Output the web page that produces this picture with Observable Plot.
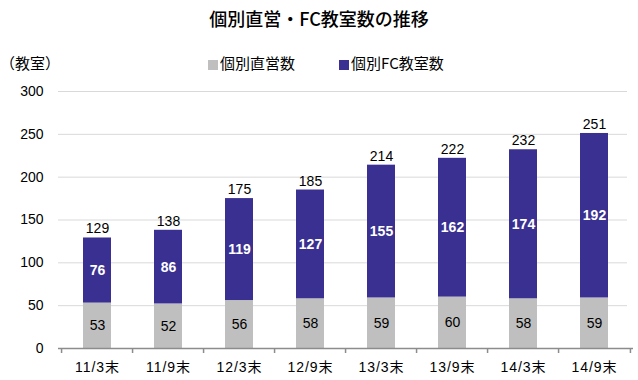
<!DOCTYPE html>
<html><head><meta charset="utf-8">
<script src="https://cdn.jsdelivr.net/npm/d3@7"></script>
<script src="https://cdn.jsdelivr.net/npm/@observablehq/plot@0.6"></script>
<style>
body{margin:0;background:#fff;font-family:"Liberation Sans","Noto Sans CJK JP",sans-serif;}
#wrap{position:relative;width:638px;height:380px;}
#head{position:relative;height:80px;}
#title{position:absolute;left:0;width:638px;top:5px;text-align:center;font-size:18px;font-weight:500;font-family:"Noto Sans CJK JP",sans-serif;color:#000;}
#unit{position:absolute;left:0px;top:52px;font-size:15px;font-family:"Noto Sans CJK JP",sans-serif;}
#legend{position:absolute;left:208px;top:52px;font-size:15px;font-family:"Noto Sans CJK JP",sans-serif;display:flex;gap:0;}
.sw{display:inline-block;width:10px;height:10px;margin-right:2px;vertical-align:-1px;}
.li{margin-right:44px;white-space:nowrap;}
g[aria-label="x-axis tick label"] text{letter-spacing:1px;}
</style></head>
<body><div id="wrap">
<div id="head">
<div id="title">個別直営・FC教室数の推移</div>
<div id="unit">（教室）</div>
<div id="legend"></div>
</div>
<div id="chart"></div>
</div>
<script>
const categories = ["11/3末","11/9末","12/3末","12/9末","13/3末","13/9末","14/3末","14/9末"];
const seriesNames = ["個別直営数","個別FC教室数"];
const direct = [53,52,56,58,59,60,58,59];
const fc = [76,86,119,127,155,162,174,192];
const totals = [129,138,175,185,214,222,232,251];
const yTicks = [0,50,100,150,200,250,300];
const colors = ["#BFBFBF","#3A3091"];

const data = [];
categories.forEach((c,i)=>{
  data.push({cat:c, series:seriesNames[0], value:direct[i]});
  data.push({cat:c, series:seriesNames[1], value:fc[i]});
});
const totalData = categories.map((c,i)=>({cat:c, total:totals[i]}));

const lg = document.getElementById("legend");
seriesNames.forEach((s,i)=>{
  const span = document.createElement("span");
  span.className="li";
  span.innerHTML = `<span class="sw" style="background:${colors[i]}"></span>${s}`;
  lg.appendChild(span);
});

const width = 638, marginLeft = 58, marginRight = 5;
const step = (width - marginLeft - marginRight) / categories.length;

const plot = Plot.plot({
  width, height: 300,
  marginTop: 11, marginBottom: 32, marginLeft, marginRight,
  style: {fontFamily: '"Liberation Sans","Noto Sans CJK JP",sans-serif', fontSize: "14px", color:"#000"},
  x: {domain: categories, paddingInner: 0.61, paddingOuter: 0.305, label: null},
  y: {domain: [0,300], ticks: yTicks, label: null},
  color: {domain: seriesNames, range: colors},
  marks: [
    Plot.ruleY(yTicks.filter(d=>d>0), {stroke:"#D9D9D9", strokeWidth:1, insetRight: 6}),
    Plot.axisY({ticks: yTicks, tickSize: 0, tickPadding: 15, fontSize: 14}),
    Plot.axisX({tickSize: 0, tickPadding: 14, fontSize: 14}),
    Plot.barY(data, {x:"cat", y:"value", fill:"series", order: seriesNames}),
    Plot.ruleY([0], {stroke:"#8C8C8C", strokeWidth:1.5}),
    Plot.ruleX(categories, {x: d=>d, y1: 0, y2: 0, insetBottom: -5, dx: -step/2, stroke:"#8C8C8C", strokeWidth:1.5}),
    Plot.ruleX(categories.slice(-1), {x: d=>d, y1: 0, y2: 0, insetBottom: -5, dx: step/2, stroke:"#8C8C8C", strokeWidth:1.5}),
    Plot.text(data.filter(d=>d.series===seriesNames[0]), Plot.stackY({x:"cat", y:"value", text:"value", fill:"#000", fontSize:14})),
    Plot.text(data, Plot.stackY({x:"cat", y:"value", z:"series", order: seriesNames, text: d=>d.series===seriesNames[1]?d.value:"", fill:"#fff", fontWeight:"bold", fontSize:14})),
    Plot.text(totalData, {x:"cat", y:"total", text:"total", dy:-9, fill:"#000", fontSize:14})
  ]
});
document.getElementById("chart").appendChild(plot);
</script>
</body></html>
